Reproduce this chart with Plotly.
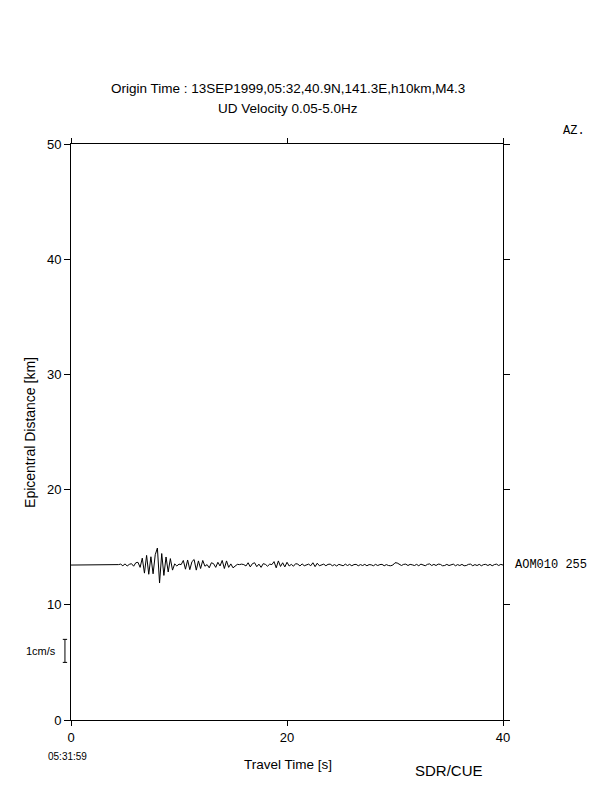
import plotly.graph_objects as go

# ---- data ----
station_name = "AOM010"
station_azimuth = 255
station_distance_km = 13.45          # epicentral distance of the trace baseline
km_per_cm_s = 2.0                    # display gain: 1 cm/s = 2 km on the distance axis
sample_interval_s = 0.2

# UD velocity (cm/s), sampled every 0.2 s from 0 to 40 s (10 samples per row = 2 s)
velocity_cm_s = [
    0, 0, 0, 0, 0, 0, 0, 0, 0, 0,
    0, 0, 0, 0.02, 0.02, 0.02, 0.02, 0.02, 0.02, 0.02,
    0.02, 0.02, 0.02, 0.04, -0.03, 0.05, -0.04, 0.03, 0.06, -0.05,
    0.1, 0.12, -0.1, 0.3, -0.35, 0.42, -0.4, 0.36, -0.38, 0.45,
    0.74, -0.78, 0.5, -0.45, 0.35, -0.3, 0.28, -0.22, 0.05, -0.04,
    0.04, 0.02, 0.2, -0.18, 0.22, -0.2, 0.15, 0.24, -0.22, 0.18,
    -0.15, 0.2, -0.05, 0.02, -0.12, 0.1, 0.06, -0.1, 0.12, -0.04,
    0.2, -0.15, 0.18, -0.1, 0.05, -0.12, -0.06, 0.03, 0.02, 0.04,
    0.02, -0.04, 0.1, -0.08, 0.06, 0.1, -0.07, 0.04, -0.1, 0.06,
    0.03, -0.05, 0.04, 0.02, 0.15, -0.12, 0.18, -0.06, 0.1, -0.08,
    0.12, -0.04, 0.03, -0.05, 0.06, 0.04, -0.04, 0.05, -0.03, 0.02,
    0.04, -0.03, 0.1, -0.07, 0.08, -0.03, 0.02, 0.04, -0.03, 0.03,
    0.04, -0.03, 0.02, -0.04, 0.03, 0.01, -0.03, 0.04, -0.02, 0.03,
    -0.03, 0.02, 0.03, -0.03, 0.02, -0.02, 0.03, -0.03, 0.02, 0.01,
    -0.03, 0.03, -0.02, 0.02, 0.03, -0.03, 0.02, -0.02, -0.03, 0.0,
    0.1, 0.09, 0.04, -0.02, 0.03, 0.04, -0.02, 0.03, 0.01, -0.02,
    0.03, -0.03, 0.04, 0.02, -0.03, 0.03, 0.05, -0.02, 0.03, -0.02,
    0.04, 0.03, -0.03, -0.02, 0.03, -0.02, 0.02, 0.04, -0.03, 0.02,
    -0.02, 0.03, -0.03, -0.02, 0.03, 0.04, -0.03, 0.02, -0.02, 0.03,
    -0.03, 0.02, 0.03, -0.02, 0.03, -0.03, 0.02, 0.04, -0.02, 0.03,
    0.0,
]

x_ticks = [0, 20, 40]
y_ticks = [0, 10, 20, 30, 40, 50]
x_range = [0, 40]
y_range = [0, 50]
scale_bar_cm_s = 1.0
scale_bar_center_km = 6.0

title_line1 = "Origin Time : 13SEP1999,05:32,40.9N,141.3E,h10km,M4.3"
title_line2 = "UD Velocity 0.05-5.0Hz"
start_clock = "05:31:59"

# ---- figure ----
times = [i * sample_interval_s for i in range(len(velocity_cm_s))]
trace_y = [station_distance_km + v * km_per_cm_s for v in velocity_cm_s]

FONT = "Liberation Sans, Arial, Helvetica, sans-serif"
MONO = "Liberation Mono, Courier New, monospace"

fig = go.Figure()
fig.add_trace(go.Scatter(x=times, y=trace_y, mode="lines",
                         line=dict(color="black", width=1), showlegend=False,
                         hoverinfo="skip"))

axis_common = dict(showline=True, linecolor="black", linewidth=1, mirror="allticks",
                   ticks="outside", tickcolor="black", tickwidth=1, showgrid=False,
                   zeroline=False, tickfont=dict(family=FONT, size=13, color="black"))

fig.update_xaxes(range=x_range, tickvals=x_ticks, ticklen=5, **axis_common)
fig.update_yaxes(range=y_range, tickvals=y_ticks, ticklen=6, **axis_common)

y_span = y_range[1] - y_range[0]

def ypaper(v):
    return (v - y_range[0]) / y_span

# scale bar: 1 cm/s
half = scale_bar_cm_s * km_per_cm_s / 2
y0 = ypaper(scale_bar_center_km - half)
y1 = ypaper(scale_bar_center_km + half)
bx = -0.014
sx = 0.005
line_style = dict(color="black", width=1)
fig.add_shape(type="line", xref="paper", yref="paper", x0=bx, x1=bx, y0=y0, y1=y1, line=line_style)
fig.add_shape(type="line", xref="paper", yref="paper", x0=bx - sx, x1=bx + sx, y0=y0, y1=y0, line=line_style)
fig.add_shape(type="line", xref="paper", yref="paper", x0=bx - sx, x1=bx + sx, y0=y1, y1=y1, line=line_style)

ann = []
def add_text(text, x, y, size=12, family=FONT, xanchor="center", yanchor="middle", angle=0):
    ann.append(dict(text=text, x=x, y=y, xref="paper", yref="paper", showarrow=False,
                    xanchor=xanchor, yanchor=yanchor, textangle=angle,
                    font=dict(family=family, size=size, color="black")))

add_text(title_line1, 0.502, 1.097, size=13.5)
add_text(title_line2, 0.502, 1.061, size=13.5)
add_text("AZ.", 1.164, 1.0226, size=12, family=MONO)
add_text(f"{station_name} {station_azimuth}", 1.024, ypaper(station_distance_km),
         size=12, family=MONO, xanchor="left")
add_text(f"{scale_bar_cm_s:g}cm/s", -0.03, ypaper(scale_bar_center_km), size=11, xanchor="right")
add_text(start_clock, -0.009, -0.0625, size=10)
add_text("Travel Time [s]", 0.502, -0.078, size=13.5)
add_text("SDR/CUE", 0.874, -0.087, size=15)
add_text("Epicentral Distance [km]", -0.095, 0.5, size=14, angle=-90)

# the page body has an 8 px margin, so the figure is shrunk by that amount
fig.update_layout(width=604, height=784, paper_bgcolor="white", plot_bgcolor="white",
                  margin=dict(l=63, r=109, t=136, b=72), annotations=ann,
                  font=dict(family=FONT, color="black"))

fig.write_html("out.html")
